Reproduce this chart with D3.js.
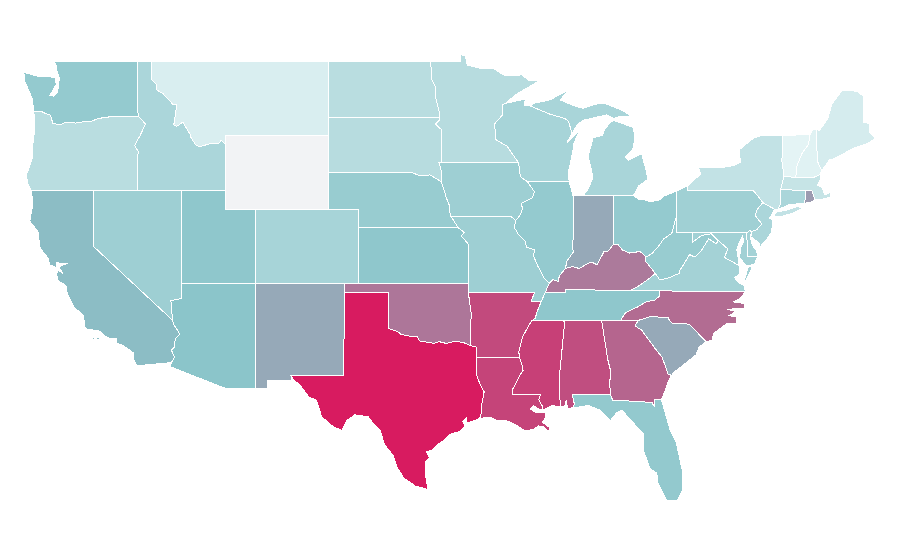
<!DOCTYPE html>
<html>
<head>
<meta charset="utf-8">
<title>States map</title>
<script src="https://d3js.org/d3.v7.min.js"></script>
<style>
body { margin: 0; background: #fff; }
.state { stroke: #fff; stroke-width: 1px; shape-rendering: crispEdges; }
</style>
</head>
<body>
<div id="map"></div>
<script>
// state values, in the same order as the names and the outlines below (null = no data)
const stateNames = ["WA","OR","CA","NV","ID","MT","WY","UT","AZ","CO","NM","ND","SD","NE","KS","OK","TX","MN","IA","MO","AR","LA","MS","AL","GA","FL","SC","NC","TN","KY","VA","WV","OH","IN","IL","WI","MI","PA","NY","NJ","DE","MD","CT","RI","MA","VT","NH","ME"];
const stateValues = [44,25,52,39,32,8,null,47,49,34,58,25,26,42,47,73,100,26,39,39,86,88,89,85,78,45,58,76,47,72,36,42,44,58,44,34,33,38,20,32,36,37,32,62,18,2,4,10];

const colorStops = [0, 50, 100];
const colorRange = ["#e8f6f7", "#89c4c9", "#d81b60"];
const noDataColor = "#f2f3f5";

// border lines in lon/lat, shared between neighbouring states
const wa_coast = [[-122.65,49],[-122.5,48.75],[-122.45,48.4],[-122.3,48.1],[-122.35,47.6],[-122.45,47.3],[-122.7,47.1],[-122.95,47.15],[-122.75,47.4],[-122.5,47.75],[-122.6,48.1],[-123.1,48.17],[-123.7,48.17],[-124.7,48.38],[-124.65,47.9],[-124.3,47.3],[-124.1,46.9],[-124.05,46.27]];
const wa_or = [[-124.05,46.27],[-123.5,46.27],[-123.2,46.15],[-122.9,46.08],[-122.8,45.8],[-122.75,45.65],[-122.3,45.55],[-121.8,45.7],[-121.2,45.65],[-120.6,45.73],[-120.2,45.72],[-119.6,45.92],[-119,45.93],[-118.98,46],[-116.92,46]];
const wa_id = [[-117.04,49],[-117.04,46.42],[-116.92,46]];
const or_id = [[-116.92,46],[-116.47,45.6],[-116.7,45.2],[-116.85,44.95],[-117.2,44.45],[-117.05,44.23],[-116.93,44.1],[-117.03,43.83],[-117.03,42]];
const or_coast = [[-124.05,46.27],[-123.95,45.9],[-123.98,45.2],[-124.08,44.6],[-124.1,43.83],[-124.45,43],[-124.55,42.84],[-124.4,42.3],[-124.21,42]];
const or_ca = [[-124.21,42],[-120,42]];
const or_nv = [[-120,42],[-117.03,42]];
const nv_id = [[-117.03,42],[-114.04,42]];
const ut_id = [[-114.04,42],[-111.05,42]];
const wy_id = [[-111.05,42],[-111.05,44.48]];
const id_mt = [[-111.05,44.48],[-111.35,44.72],[-111.5,44.55],[-112,44.55],[-112.85,44.37],[-113.1,44.5],[-113.45,44.95],[-113.45,45.05],[-113.95,45.7],[-114.35,45.47],[-114.55,45.56],[-114.35,46.65],[-114.6,46.65],[-115.3,47.25],[-115.75,47.45],[-115.7,47.7],[-116.05,48],[-116.05,49]];
const ca_nv = [[-120,42],[-120,39],[-114.63,35]];
const ca_az = [[-114.63,35],[-114.57,34.8],[-114.15,34.27],[-114.45,34],[-114.53,33.55],[-114.72,33.4],[-114.5,33],[-114.72,32.72]];
const ca_south = [[-114.72,32.72],[-117.06,32.55]];
const ca_coast = [[-124.21,42],[-124.1,41.5],[-124.15,41],[-124.3,40.35],[-123.75,39.8],[-123.6,38.9],[-123.05,38.35],[-122.95,38],[-122.5,37.85],[-122.5,38.12],[-122.2,38.07],[-121.7,38.08],[-122.1,37.98],[-122.3,37.85],[-122.05,37.5],[-122.4,37.75],[-122.48,37.5],[-122.4,37.15],[-122,36.95],[-121.8,36.8],[-121.8,36.55],[-121.5,36],[-121.3,35.7],[-120.7,35.3],[-120.6,34.9],[-120.55,34.55],[-119.55,34.42],[-119.2,34.15],[-118.8,34],[-118.4,34.03],[-118.4,33.75],[-118,33.65],[-117.3,33.25],[-117.25,32.85],[-117.06,32.55]];
const ca_island1 = [[-120.15,34.02],[-119.95,34.07],[-119.9,33.97],[-120.1,33.93]];
const ca_island2 = [[-119.8,34.05],[-119.55,34.05],[-119.55,33.98],[-119.8,33.97]];
const ca_island3 = [[-118.6,33.48],[-118.35,33.42],[-118.35,33.34],[-118.5,33.4]];
const ut_nv = [[-114.04,42],[-114.04,37]];
const nv_az = [[-114.04,37],[-114.04,36.2],[-114.35,36.12],[-114.75,36.08],[-114.7,35.6],[-114.63,35]];
const ut_az = [[-114.04,37],[-109.05,37]];
const ut_wy = [[-111.05,42],[-111.05,41]];
const ut_wy2 = [[-111.05,41],[-109.05,41]];
const ut_co = [[-109.05,41],[-109.05,37]];
const az_nm = [[-109.05,37],[-109.05,31.33]];
const az_south = [[-109.05,31.33],[-111.07,31.33],[-114.81,32.5],[-114.72,32.72]];
const nm_co = [[-109.05,37],[-103,37]];
const nm_ok = [[-103,37],[-103,36.5]];
const nm_tx = [[-103,36.5],[-103.06,32],[-106.62,32]];
const nm_south = [[-106.62,32],[-106.62,31.78],[-108.21,31.78],[-108.21,31.33],[-109.05,31.33]];
const wy_mt = [[-111.05,44.48],[-111.05,45],[-104.05,45]];
const wy_sd = [[-104.05,45],[-104.05,43]];
const wy_ne = [[-104.05,43],[-104.05,41]];
const wy_co = [[-104.05,41],[-109.05,41]];
const co_ne = [[-104.05,41],[-102.05,41],[-102.05,40]];
const co_ks = [[-102.05,40],[-102.05,37]];
const co_ok = [[-102.05,37],[-103,37]];
const mt_nd = [[-104.05,49],[-104.05,45.94]];
const mt_sd = [[-104.05,45.94],[-104.05,45]];
const nd_sd = [[-104.05,45.94],[-96.56,45.94]];
const nd_mn = [[-97.23,49],[-97.13,48.6],[-97.1,48],[-96.85,47.6],[-96.83,47],[-96.6,46.3],[-96.56,45.94]];
const sd_mn = [[-96.56,45.94],[-96.58,45.8],[-96.85,45.6],[-96.45,45.3],[-96.45,43.5]];
const sd_ia = [[-96.45,43.5],[-96.6,43.5],[-96.45,43.05],[-96.45,42.49]];
const sd_ne = [[-96.45,42.49],[-96.7,42.6],[-97.2,42.85],[-97.9,42.8],[-98.5,43],[-104.05,43]];
const ne_ks = [[-102.05,40],[-95.3,40]];
const ne_ia = [[-96.45,42.49],[-96.25,42],[-96.1,41.6],[-95.9,41.2],[-95.85,40.7],[-95.77,40.58]];
const ne_mo = [[-95.77,40.58],[-95.3,40]];
const ks_ok = [[-102.05,37],[-94.62,37]];
const ks_mo = [[-95.3,40],[-94.9,39.75],[-95.1,39.55],[-94.6,39.1],[-94.62,37]];
const ok_mo = [[-94.62,37],[-94.62,36.5]];
const ok_ar = [[-94.62,36.5],[-94.43,35.4],[-94.48,33.64]];
const ok_tx = [[-103,36.5],[-100,36.5],[-100,34.56],[-99.4,34.4],[-99.2,34.25],[-98.6,34.15],[-98.1,34.13],[-97.9,33.88],[-97.2,33.8],[-97,33.75],[-96.6,33.85],[-96.1,33.75],[-95.5,33.88],[-94.95,33.8],[-94.48,33.64]];
const tx_ar = [[-94.48,33.64],[-94.04,33.55],[-94.04,33.02]];
const tx_la = [[-94.04,33.02],[-94.04,32],[-93.8,31.5],[-93.55,31.15],[-93.7,30.5],[-93.72,30.05],[-93.85,29.7]];
const tx_coast = [[-93.85,29.7],[-94.7,29.45],[-94.75,29.75],[-95,29.55],[-94.85,29.3],[-95.2,29],[-95.87,28.85],[-96.4,28.45],[-96.76,28.27],[-97.05,28],[-97.44,27.9],[-97.25,27.6],[-97.55,27.37],[-97.55,26.76],[-97.35,25.87]];
const tx_mex = [[-97.35,25.87],[-98.2,26.05],[-99,26.5],[-99.47,27.1],[-99.7,27.7],[-100.3,28.3],[-100.6,29.1],[-101,29.38],[-101.4,29.8],[-102.3,29.9],[-102.85,29.6],[-103.18,29.06],[-103.75,29.25],[-104.55,29.8],[-104.9,30.7],[-105.4,30.85],[-106,31.5],[-106.4,31.75],[-106.62,32]];
const la_ar = [[-94.04,33.02],[-91.17,33]];
const la_ms = [[-91.17,33],[-91,32.65],[-90.92,32.3],[-91.15,32],[-91.4,31.6],[-91.65,31.25],[-91.62,31],[-89.73,31],[-89.85,30.7],[-89.6,30.35],[-89.55,30.18]];
const la_coast = [[-89.55,30.18],[-89.85,30.22],[-90.2,30.38],[-90.45,30.22],[-90.1,30.05],[-89.75,30.02],[-89.4,30],[-89.4,29.75],[-89.6,29.5],[-89.1,29.2],[-89.2,29],[-89.5,29.25],[-89.9,29.3],[-90.2,29.1],[-90.8,29.05],[-91.3,29.3],[-91.8,29.5],[-92.1,29.6],[-92.6,29.58],[-93.2,29.78],[-93.85,29.7]];
const ar_mo = [[-94.62,36.5],[-90.15,36.5],[-90.37,36],[-89.7,36]];
const ar_tn = [[-89.7,36],[-89.95,35.5],[-90.1,35.1],[-90.3,35]];
const ar_ms = [[-90.3,35],[-90.55,34.7],[-90.95,34.1],[-91.1,33.65],[-91.2,33.3],[-91.17,33]];
const ia_mo = [[-95.77,40.58],[-91.73,40.61],[-91.42,40.38]];
const mo_il = [[-91.42,40.38],[-91.5,40],[-91.2,39.6],[-90.75,39.25],[-90.7,38.95],[-90.15,38.8],[-90.2,38.45],[-89.9,37.9],[-89.5,37.3],[-89.15,37]];
const mo_ky = [[-89.15,37],[-89.42,36.5]];
const mo_tn = [[-89.42,36.5],[-89.7,36]];
const mn_ia = [[-96.45,43.5],[-91.22,43.5]];
const ia_wi = [[-91.22,43.5],[-91.1,42.75],[-90.64,42.5]];
const ia_il = [[-90.64,42.5],[-90.15,41.95],[-90.3,41.6],[-91.05,41.3],[-90.95,41.05],[-91.1,40.7],[-91.42,40.38]];
const mn_top = [[-97.23,49],[-95.15,49],[-95.15,49.33],[-94.82,49.3],[-94.7,48.78],[-93.8,48.6],[-93.3,48.62],[-92.95,48.62],[-92.25,48.25],[-91.9,48.2],[-91,48.25],[-90.5,47.95],[-89.8,47.97],[-90.3,47.7],[-91.3,47.25],[-92.1,46.72]];
const mn_wi = [[-92.1,46.72],[-92.3,46.65],[-92.3,46.1],[-92.85,45.6],[-92.75,44.75],[-92,44.4],[-91.22,43.5]];
const wi_sup = [[-92.1,46.72],[-91.2,46.87],[-90.75,46.95],[-90.85,46.6],[-90.42,46.57]];
const wi_mi = [[-90.42,46.57],[-89.1,46.13],[-88.1,45.9],[-87.85,45.75],[-87.6,45.1]];
const wi_lake = [[-87.6,45.1],[-87.95,44.6],[-87.1,45.25],[-87.5,44.5],[-87.55,44.1],[-87.85,43],[-87.8,42.49]];
const wi_il = [[-87.8,42.49],[-90.64,42.5]];
const il_lake = [[-87.8,42.49],[-87.53,41.72]];
const il_in = [[-87.53,41.72],[-87.53,39.35],[-87.6,39],[-87.5,38.7],[-87.95,38.2],[-88.05,37.8]];
const il_ky = [[-88.05,37.8],[-88.45,37.42],[-88.55,37.1],[-88.9,37.2],[-89.15,37]];
const in_lake = [[-87.53,41.72],[-87.2,41.75],[-86.82,41.76]];
const in_mi = [[-86.82,41.76],[-84.8,41.72]];
const in_oh = [[-84.8,41.72],[-84.8,39.1]];
const in_ky = [[-84.8,39.1],[-85.2,38.7],[-85.45,38.7],[-85.9,38],[-86.3,38.15],[-86.8,37.95],[-87.1,37.8],[-87.6,37.9],[-88.05,37.8]];
const oh_ky = [[-84.8,39.1],[-84.5,39.1],[-84.2,38.8],[-83.7,38.63],[-83,38.72],[-82.6,38.42]];
const oh_wv = [[-82.6,38.42],[-82.2,38.6],[-81.75,39],[-81.4,39.4],[-80.85,39.7],[-80.62,40.4],[-80.52,40.64]];
const oh_pa = [[-80.52,40.64],[-80.52,41.98]];
const oh_lake = [[-80.52,41.98],[-81.4,41.7],[-81.7,41.5],[-82.3,41.4],[-82.7,41.5],[-83,41.5],[-83.45,41.73]];
const oh_mi = [[-83.45,41.73],[-84.8,41.72]];
const mi_lower = [[-86.82,41.76],[-86.5,42.1],[-86.18,42.74],[-86.5,43.8],[-86.45,44.05],[-86.18,44.84],[-85.95,44.9],[-85.55,45],[-85.4,45.3],[-85,45.72],[-84.75,45.78],[-84.2,45.63],[-83.45,45.4],[-83.35,44.8],[-83.5,44.2],[-84,43.8],[-83.8,43.65],[-82.9,44],[-82.55,43],[-82.5,42.6],[-83.1,42.25],[-83.45,41.73]];
const mi_up = [[-87.6,45.1],[-87.2,45.6],[-86.85,45.8],[-85.25,46.09],[-84.75,45.9],[-84.4,46],[-83.6,46.03],[-84.25,46.35],[-84.55,46.45],[-85.4,46.72],[-86,46.67],[-86.85,46.45],[-87.3,46.53],[-88.4,46.9],[-87.85,47.43],[-88.5,47.16],[-89.1,46.9],[-90.2,46.72],[-90.42,46.57]];
const mi_isle = [[-89.2,47.85],[-88.5,48.15],[-88.6,48.05],[-89.1,47.85]];
const ky_tn = [[-89.42,36.5],[-88.07,36.5],[-88.07,36.67],[-83.68,36.6]];
const ky_va = [[-83.68,36.6],[-83.1,36.85],[-82.3,37.3],[-81.97,37.54]];
const ky_wv = [[-81.97,37.54],[-82.6,38.17],[-82.6,38.42]];
const tn_nc = [[-81.68,36.59],[-81.7,36.3],[-82,36.1],[-82.6,36],[-83.1,35.75],[-84,35.4],[-84.32,34.99]];
const va_tn = [[-83.68,36.6],[-81.68,36.59]];
const tn_ga = [[-84.32,34.99],[-85.6,34.98]];
const tn_al = [[-85.6,34.98],[-88.2,34.99]];
const tn_ms = [[-88.2,34.99],[-90.3,35]];
const ms_al = [[-88.2,34.99],[-88.1,34.9],[-88.47,31.9],[-88.4,30.37]];
const ms_coast = [[-88.4,30.37],[-89,30.38],[-89.55,30.18]];
const al_ga = [[-85.6,34.98],[-85.18,32.87],[-85,32.3],[-85.05,31.55],[-85,31]];
const al_fl = [[-85,31],[-87.6,31],[-87.45,30.5],[-87.5,30.28]];
const al_coast = [[-87.5,30.28],[-87.9,30.25],[-88,30.7],[-88.1,30.35],[-88.4,30.37]];
const ga_nc = [[-84.32,34.99],[-83.11,35]];
const ga_sc = [[-83.11,35],[-83.35,34.7],[-82.9,34.48],[-82,33.5],[-81.5,33],[-81.1,32.1],[-80.87,32.03]];
const ga_fl = [[-85,31],[-84.86,30.7],[-82.2,30.57],[-82.05,30.36],[-82,30.75],[-81.55,30.72]];
const ga_coast = [[-81.55,30.72],[-81.3,31.2],[-81.15,31.6],[-80.87,32.03]];
const fl_coast = [[-81.55,30.72],[-81.3,30],[-80.97,29.1],[-80.55,28.4],[-80.1,26.75],[-80.15,25.8],[-80.5,25.25],[-81.2,25.3],[-81.78,26.2],[-81.87,26.75],[-82.33,27],[-82.78,28],[-82.78,28.9],[-83.1,29.15],[-83.6,29.6],[-84.24,30.16],[-84.6,30],[-85,29.6],[-85.26,29.8],[-85.7,30.15],[-86.5,30.4],[-87.5,30.28]];
const sc_nc = [[-83.11,35],[-82.3,35.2],[-81.05,35.15],[-81.05,35.05],[-80.8,34.82],[-79.67,34.8],[-78.55,33.86]];
const sc_coast = [[-78.55,33.86],[-79,33.55],[-79.2,33.15],[-79.9,32.7],[-80.45,32.35],[-80.65,32.25],[-80.87,32.03]];
const nc_va = [[-81.68,36.59],[-75.87,36.55]];
const nc_coast = [[-75.87,36.55],[-76.2,36.2],[-76.7,36],[-75.9,35.9],[-75.9,35.65],[-77.1,35.6],[-76.5,35.47],[-77,35.25],[-76.45,35.2],[-76.5,34.85],[-77.1,34.85],[-78,34.3],[-78.15,33.9],[-78.55,33.86]];
const va_wv = [[-81.97,37.54],[-81.68,37.2],[-81.2,37.25],[-80.3,37.55],[-80.3,37.7],[-79.95,38.15],[-79.65,38.55],[-79.3,38.42],[-78.85,38.77],[-78.35,39.4],[-77.83,39.13],[-77.72,39.32]];
const va_md = [[-77.72,39.32],[-77.05,38.85],[-77.3,38.4],[-76.95,38.25],[-76.3,37.95]];
const va_coast = [[-76.3,37.95],[-76.3,37.5],[-76.6,37.3],[-76.3,37],[-75.97,36.9],[-75.87,36.55]];
const va_shore = [[-75.65,37.95],[-75.95,37.15],[-75.85,37.15],[-75.4,37.85]];
const wv_md = [[-77.72,39.32],[-78.2,39.68],[-78.4,39.62],[-78.8,39.6],[-79.48,39.2],[-79.48,39.72]];
const wv_pa = [[-79.48,39.72],[-80.52,39.72],[-80.52,40.64]];
const md_pa = [[-79.48,39.72],[-75.79,39.72]];
const md_de = [[-75.79,39.72],[-75.7,38.46],[-75.05,38.45]];
const de_pa = [[-75.79,39.72],[-75.6,39.84],[-75.42,39.8]];
const de_coast = [[-75.42,39.8],[-75.55,39.5],[-75.4,39.05],[-75.1,38.75],[-75.05,38.45]];
const md_coast = [[-75.05,38.45],[-75.25,38.03],[-75.65,37.95],[-75.9,38],[-76.25,38.4],[-76.2,38.95],[-76,39.2],[-76.05,39.55],[-76.3,39.2],[-76.45,38.8],[-76.35,38.3],[-76.3,37.95]];
const pa_erie = [[-80.52,41.98],[-79.76,42.27]];
const pa_ny = [[-79.76,42.27],[-79.76,42],[-75.35,42],[-75.05,41.75],[-74.7,41.36]];
const pa_nj = [[-74.7,41.36],[-75.1,40.95],[-75.2,40.65],[-74.75,40.2],[-75.1,39.9],[-75.42,39.8]];
const nj_ny = [[-74.7,41.36],[-73.9,41]];
const nj_coast = [[-73.9,41],[-74.1,40.7],[-74.25,40.5],[-74,40.45],[-74.1,39.75],[-74.4,39.4],[-74.9,38.95],[-74.95,39.2],[-75.5,39.5],[-75.42,39.8]];
const ny_sound = [[-73.9,41],[-73.66,40.98]];
const ny_ct = [[-73.66,40.98],[-73.5,41.3],[-73.5,42.05]];
const ny_ma = [[-73.5,42.05],[-73.26,42.75]];
const ny_vt = [[-73.26,42.75],[-73.4,43.6],[-73.35,45]];
const ny_north = [[-73.35,45],[-74.7,45],[-75.3,44.85],[-76.3,44.2],[-76.2,43.55],[-76.7,43.35],[-77.5,43.25],[-79.05,43.27],[-78.9,42.9],[-79.76,42.27]];
const ny_island = [[-74,40.6],[-73.75,40.85],[-73,40.97],[-72.3,41.15],[-72,41.05],[-72.6,40.8],[-73.5,40.6]];
const vt_ma = [[-73.26,42.75],[-72.46,42.73]];
const vt_nh = [[-72.46,42.73],[-72.4,43.3],[-72.05,44],[-71.6,44.5],[-71.5,45.01]];
const vt_north = [[-71.5,45.01],[-73.35,45]];
const nh_north = [[-71.5,45.01],[-71.3,45.3],[-71.08,45.3]];
const nh_me = [[-71.08,45.3],[-71,43.6],[-70.7,43.07]];
const nh_ma = [[-72.46,42.73],[-71.3,42.7],[-70.82,42.87]];
const nh_coast = [[-70.82,42.87],[-70.7,43.07]];
const ma_ct = [[-73.5,42.05],[-71.8,42.02]];
const ma_ri = [[-71.8,42.02],[-71.38,42.02],[-71.33,41.9],[-71.15,41.5]];
const ma_coast = [[-71.15,41.5],[-70.65,41.55],[-70.1,41.65],[-70.1,41.9],[-70.5,41.78],[-70.7,42.2],[-71,42.3],[-70.8,42.6],[-70.82,42.87]];
const ct_ri = [[-71.8,42.02],[-71.85,41.32]];
const ct_coast = [[-71.85,41.32],[-72.9,41.25],[-73.66,40.98]];
const ri_coast = [[-71.15,41.5],[-71.5,41.37],[-71.85,41.32]];
const me_coast = [[-70.7,43.07],[-70.2,43.65],[-69.8,43.75],[-69,44.1],[-68.5,44.3],[-67.6,44.55],[-67.05,44.83],[-67.45,45.15],[-67.45,45.6],[-67.85,45.7],[-67.85,47.07],[-68.3,47.36],[-69,47.43],[-69.3,47.43],[-70,46.7],[-70.3,45.9],[-70.85,45.25],[-71.08,45.3]];

function rev(line) {
    return line.slice().reverse();
}

// every state is a list of rings, every ring a list of border lines
const stateRings = [
    [[wa_coast, wa_or, rev(wa_id)]],
    [[or_coast, or_ca, or_nv, rev(or_id), rev(wa_or)]],
    [[ca_coast, rev(ca_south), rev(ca_az), rev(ca_nv)], [ca_island1], [ca_island2], [ca_island3]],
    [[or_nv, nv_id, ut_nv, nv_az, rev(ca_nv)]],
    [[wa_id, or_id, nv_id, ut_id, wy_id, id_mt]],
    [[id_mt, mt_nd, mt_sd, rev(wy_mt)]],
    [[wy_mt, wy_sd, wy_ne, wy_co, rev(ut_wy2), rev(ut_wy), wy_id]],
    [[ut_id, ut_wy, ut_wy2, ut_co, rev(ut_az), rev(ut_nv)]],
    [[ut_az, az_nm, az_south, rev(ca_az), rev(nv_az)]],
    [[rev(wy_co), co_ne, co_ks, co_ok, rev(nm_co), rev(ut_co)]],
    [[nm_co, nm_ok, nm_tx, nm_south, rev(az_nm)]],
    [[mt_nd, nd_sd, rev(nd_mn)]],
    [[mt_sd, wy_sd, rev(sd_ne), rev(sd_ia), rev(sd_mn), rev(nd_sd)]],
    [[rev(sd_ne), ne_ia, ne_mo, rev(ne_ks), rev(co_ne), rev(wy_ne)]],
    [[ne_ks, ks_mo, rev(ks_ok), rev(co_ks)]],
    [[rev(co_ok), ks_ok, ok_mo, ok_ar, rev(ok_tx), rev(nm_ok)]],
    [[ok_tx, tx_ar, tx_la, tx_coast, tx_mex, rev(nm_tx)]],
    [[mn_top, mn_wi, rev(mn_ia), rev(sd_mn), rev(nd_mn)]],
    [[mn_ia, ia_wi, ia_il, rev(ia_mo), rev(ne_ia), rev(sd_ia)]],
    [[ia_mo, mo_il, mo_ky, mo_tn, rev(ar_mo), rev(ok_mo), rev(ks_mo), rev(ne_mo)]],
    [[ok_ar, tx_ar, la_ar, rev(ar_ms), rev(ar_tn), rev(ar_mo)]],
    [[rev(la_ar), tx_la, rev(la_coast), rev(la_ms)]],
    [[tn_ms, ar_ms, la_ms, rev(ms_coast), rev(ms_al)]],
    [[tn_al, ms_al, rev(al_coast), rev(al_fl), rev(al_ga)]],
    [[rev(tn_ga), ga_nc, ga_sc, rev(ga_coast), rev(ga_fl), rev(al_ga)]],
    [[ga_fl, fl_coast, rev(al_fl)]],
    [[sc_nc, sc_coast, rev(ga_sc)]],
    [[nc_va, nc_coast, rev(sc_nc), rev(ga_nc), rev(tn_nc)]],
    [[ky_tn, va_tn, tn_nc, tn_ga, tn_al, tn_ms, rev(ar_tn), rev(mo_tn)]],
    [[mo_ky, ky_tn, ky_va, ky_wv, rev(oh_ky), in_ky, il_ky]],
    [[va_tn, nc_va, rev(va_coast), rev(va_md), rev(va_wv), rev(ky_va)], [va_shore]],
    [[va_wv, wv_md, wv_pa, rev(oh_wv), rev(ky_wv)]],
    [[in_oh, oh_ky, oh_wv, oh_pa, oh_lake, oh_mi]],
    [[in_lake, in_mi, in_oh, in_ky, rev(il_in)]],
    [[il_lake, il_in, il_ky, rev(mo_il), rev(ia_il), rev(wi_il)]],
    [[wi_sup, wi_mi, wi_lake, wi_il, rev(ia_wi), rev(mn_wi)]],
    [[mi_lower, oh_mi, rev(in_mi)], [wi_mi, mi_up], [mi_isle]],
    [[pa_erie, pa_ny, pa_nj, rev(de_pa), rev(md_pa), wv_pa, oh_pa]],
    [[pa_ny, nj_ny, ny_sound, ny_ct, ny_ma, ny_vt, ny_north], [ny_island]],
    [[nj_ny, nj_coast, rev(pa_nj)]],
    [[de_pa, de_coast, rev(md_de)]],
    [[md_pa, md_de, md_coast, rev(va_md), wv_md]],
    [[ma_ct, ct_ri, ct_coast, ny_ct]],
    [[ma_ri, ri_coast, rev(ct_ri)]],
    [[vt_ma, nh_ma, rev(ma_coast), rev(ma_ri), rev(ma_ct), ny_ma]],
    [[vt_ma, vt_nh, vt_north, rev(ny_vt)]],
    [[vt_nh, nh_north, nh_me, rev(nh_coast), rev(nh_ma)]],
    [[me_coast, nh_me]]
];

const width = 900;
const height = 560;

const svg = d3.select("#map").append("svg")
    .attr("width", width)
    .attr("height", height);

// the map is stretched differently along each axis, so plain linear scales do the projecting
const xScale = d3.scaleLinear().domain([-120, -80.52]).range([93.3, 676.7]);
const yScale = d3.scaleLinear().domain([49, 37]).range([61, 283.3]);
const colorScale = d3.scaleLinear().domain(colorStops).range(colorRange);

const path = d3.geoPath(d3.geoTransform({
    point: function(x, y) {
        this.stream.point(xScale(x), yScale(y));
    }
}));

const features = stateNames.map(function(name, i) {
    const rings = stateRings[i].map(function(lines) {
        const ring = lines.flat();
        return [ring.concat([ring[0]])];
    });
    return {
        type: "Feature",
        properties: {name: name, value: stateValues[i]},
        geometry: {type: "MultiPolygon", coordinates: rings}
    };
});

svg.selectAll("path.state")
    .data(features)
    .enter().append("path")
    .attr("class", "state")
    .attr("d", path)
    .attr("fill", function(d) {
        return d.properties.value === null ? noDataColor : colorScale(d.properties.value);
    });
</script>
</body>
</html>
